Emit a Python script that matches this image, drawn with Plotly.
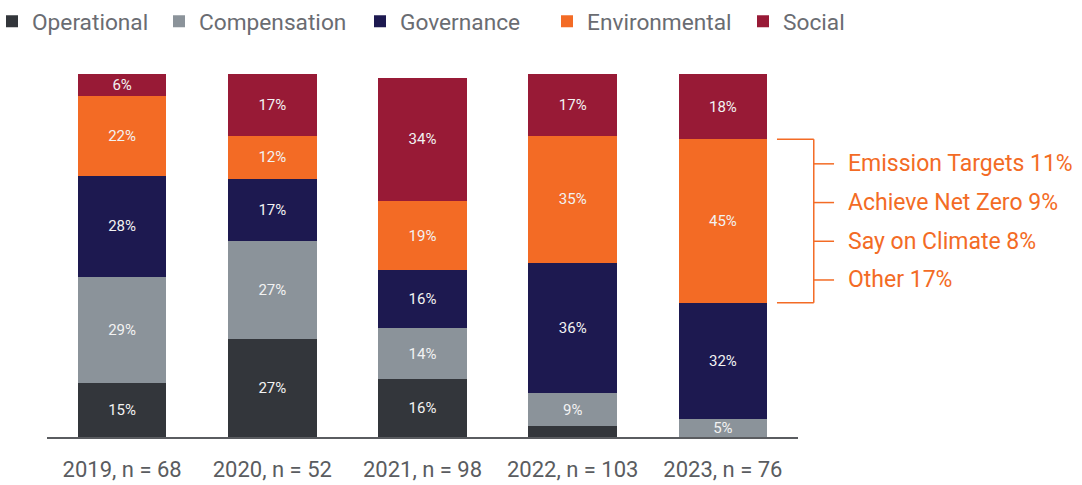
import plotly.graph_objects as go

years = ["2019, n = 68", "2020, n = 52", "2021, n = 98", "2022, n = 103", "2023, n = 76"]
series_names = ["Operational", "Compensation", "Governance", "Environmental", "Social"]
operational = [15, 27, 16, 3, 0]
compensation = [29, 27, 14, 9, 5]
governance = [28, 17, 16, 36, 32]
environmental = [22, 12, 19, 35, 45]
social = [6, 17, 34, 17, 18]
env_breakdown_labels = ["Emission Targets", "Achieve Net Zero", "Say on Climate", "Other"]
env_breakdown_values = [11, 9, 8, 17]

colors = ["#33363b", "#8b939a", "#1d1950", "#f36b25", "#981a36"]
series = [operational, compensation, governance, environmental, social]
legend_text_px = [28, 195, 396, 583, 779]  # where each legend label starts (px)

W, H = 1082, 485
fig = go.Figure()
legend_layout = {}
for i, (name, vals, col) in enumerate(zip(series_names, series, colors)):
    lid = "legend" if i == 0 else f"legend{i+1}"
    fig.add_trace(go.Bar(
        x=years, y=vals, name=name, marker=dict(color=col, line=dict(width=0)),
        text=[f"{v}%" if v >= 5 else "" for v in vals],
        textposition="inside", insidetextanchor="middle",
        textfont=dict(color="#f2f2f2", size=15, family="Roboto"),
        hoverinfo="x+y+name", legend=lid,
    ))
    legend_layout[lid] = dict(orientation="h", xref="container", yref="container",
                              x=(legend_text_px[i] - 26) / W, y=1,
                              xanchor="left", yanchor="top", indentation=-10,
                              font=dict(size=22.7, color="#6a6c72"), itemclick=False,
                              bgcolor="rgba(0,0,0,0)")

# bracket around 2023 environmental segment
last = len(years) - 1
y_bot = operational[last] + compensation[last] + governance[last]
y_top = y_bot + environmental[last]
orange = "#f36b25"
xa, xb, xc = 0.972, 1.021, 1.048
line = dict(color=orange, width=1.5)
fig.add_shape(type="line", xref="paper", yref="y", x0=xa, x1=xb, y0=y_top, y1=y_top, line=line)
fig.add_shape(type="line", xref="paper", yref="y", x0=xa, x1=xb, y0=y_bot, y1=y_bot, line=line)
fig.add_shape(type="line", xref="paper", yref="y", x0=xb, x1=xb, y0=y_bot, y1=y_top, line=line)
span = y_top - y_bot
for i, (lab, v) in enumerate(zip(env_breakdown_labels, env_breakdown_values)):
    yy = y_bot + span * (0.85 - 0.237 * i)
    fig.add_shape(type="line", xref="paper", yref="y", x0=xb, x1=xc, y0=yy, y1=yy, line=line)
    fig.add_annotation(xref="paper", yref="y", x=1.064, y=yy, text=f"{lab} {v}%",
                       showarrow=False, xanchor="left", yanchor="middle",
                       font=dict(color=orange, size=23, family="Roboto"))

fig.update_layout(
    barmode="stack", bargap=0.41,
    width=W, height=H,
    margin=dict(l=47, r=284, t=74, b=48, autoexpand=False),
    paper_bgcolor="white", plot_bgcolor="white",
    uniformtext=dict(minsize=15, mode="show"),
    font=dict(family="Roboto", color="#5f6166"),
    showlegend=True,
    **legend_layout,
)
fig.update_xaxes(showline=True, linecolor="#5a5c60", linewidth=2, ticks="",
                 tickfont=dict(size=22, color="#5a5c60"), ticklabelstandoff=12, fixedrange=True)
fig.update_yaxes(visible=False, range=[0, 100], fixedrange=True)

fig.write_html("out.html", config={"displayModeBar": False},
               post_script="document.body.style.margin='0';document.body.style.overflow='hidden';")
